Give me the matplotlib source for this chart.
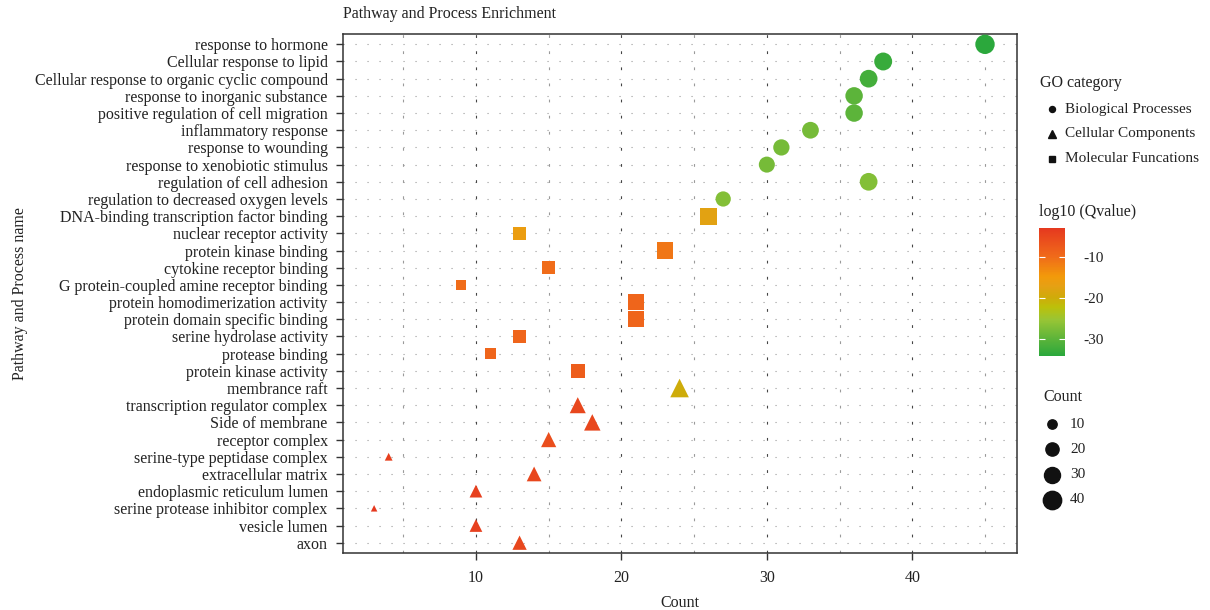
import numpy as np
import matplotlib
matplotlib.use("Agg")
import matplotlib.pyplot as plt
from matplotlib.colors import LinearSegmentedColormap, Normalize
from matplotlib.cm import ScalarMappable

plt.rcParams['font.family'] = ['Liberation Serif', 'DejaVu Serif']
plt.rcParams['axes.unicode_minus'] = False

# terms from top to bottom
terms = [
    "response to hormone", "Cellular response to lipid",
    "Cellular response to organic cyclic compound", "response to inorganic substance",
    "positive regulation of cell migration", "inflammatory response",
    "response to wounding", "response to xenobiotic stimulus",
    "regulation of cell adhesion", "regulation to decreased oxygen levels",
    "DNA-binding transcription factor binding", "nuclear receptor activity",
    "protein kinase binding", "cytokine receptor binding",
    "G protein-coupled amine receptor binding", "protein homodimerization activity",
    "protein domain specific binding", "serine hydrolase activity",
    "protease binding", "protein kinase activity",
    "membrance raft", "transcription regulator complex", "Side of membrane",
    "receptor complex", "serine-type peptidase complex", "extracellular matrix",
    "endoplasmic reticulum lumen", "serine protease inhibitor complex",
    "vesicle lumen", "axon",
]
counts = [45, 38, 37, 36, 36, 33, 31, 30, 37, 27,
          26, 13, 23, 15, 9, 21, 21, 13, 11, 17,
          24, 17, 18, 15, 4, 14, 10, 3, 10, 13]
log_q = [-34, -33, -32, -30, -30, -28, -28, -28, -27, -27,
         -17.5, -16, -11, -10, -10, -9, -9, -9, -9, -8,
         -20, -5, -5, -6, -4, -5, -4, -3, -4, -5]
category = ["BP"] * 10 + ["MF"] * 10 + ["CC"] * 10

cat_names = {"BP": "Biological Processes", "CC": "Cellular Components",
             "MF": "Molecular Funcations"}
cat_marker = {"BP": "o", "CC": "^", "MF": "s"}
size_legend = [10, 20, 30, 40]

qmin, qmax = -34.1, -2.9
cmap = LinearSegmentedColormap.from_list("q", [
    (0.0, "#2ba83c"), (0.13, "#5cb43a"), (0.28, "#98c535"),
    (0.38, "#bcc00a"), (0.46, "#d0aa0a"), (0.55, "#e6a014"),
    (0.62, "#f29a0a"), (0.78, "#f06a1a"), (1.0, "#e5381f")])
norm = Normalize(qmin, qmax)

W, H = 1210, 610
fig = plt.figure(figsize=(W / 100, H / 100), dpi=100)


def fx(px):
    return px / W


def fy(py):
    return 1 - py / H


def diam(c):
    # marker diameter in pixels, area style scaling like ggplot
    return 3.4 * (1 + 5 * np.sqrt(max(c - 3, 0) / 42.0)) - 1


def marker_s(c, cat):
    d = diam(c)
    if cat == "MF":
        d = d * 1.15
    elif cat == "CC":
        d = max(d * 1.15 + 2, 6.5)
    return (d * 0.72) ** 2


ax = fig.add_axes([fx(343), fy(553), fx(1017 - 343), fy(34) - fy(553)])
n = len(terms)
ypos = np.arange(n, 0, -1)

ax.set_xlim(0.86, 47.2)
ax.set_ylim(0.4, n + 0.6)

for y in ypos:
    ax.axhline(y, color="#9a9a9a", lw=0.8, dashes=(1, 9.8), zorder=0)
for xv in [5, 15, 25, 35, 45]:
    ax.axvline(xv, color="#9a9a9a", lw=0.8, dashes=(2.5, 12), zorder=0)
for xv in [10, 20, 30, 40]:
    ax.axvline(xv, color="#444444", lw=0.8, dashes=(2.5, 12), zorder=0)

for cat in ["BP", "MF", "CC"]:
    idx = [i for i in range(n) if category[i] == cat]
    xs = [counts[i] for i in idx]
    ys = [ypos[i] for i in idx]
    cs = [cmap(norm(log_q[i])) for i in idx]
    ss = [marker_s(counts[i], cat) for i in idx]
    ax.scatter(xs, ys, s=ss, c=cs, marker=cat_marker[cat], linewidths=0, zorder=3)

ax.set_yticks(ypos)
ax.set_yticklabels(terms, fontsize=11.5, color="#222222")
ax.set_xticks([10, 20, 30, 40])
ax.set_xticklabels(["10", "20", "30", "40"], fontsize=11.5, color="#222222")
ax.tick_params(axis="y", length=5, width=1, color="#333333", pad=6)
ax.tick_params(axis="x", length=5, width=1, color="#333333", pad=7)
for sp in ax.spines.values():
    sp.set_color("#333333")
    sp.set_linewidth(1.1)
ax.set_xlabel("Count", fontsize=11.5, color="#222222", labelpad=7)
ax.set_ylabel("Pathway and Process name", fontsize=11.5, color="#222222", labelpad=5)

fig.text(fx(343), fy(14), "Pathway and Process Enrichment", fontsize=11.5,
         color="#222222", ha="left", va="center")

# GO category legend
fig.text(fx(1040), fy(83), "GO category", fontsize=11.5, color="#222222", va="center")
leg_px = {"BP": 6, "CC": 7.5, "MF": 5.5}
for i, cat in enumerate(["BP", "CC", "MF"]):
    yy = 109 + i * 25
    fig.add_artist(plt.Line2D([fx(1052)], [fy(yy)], marker=cat_marker[cat],
                              markersize=leg_px[cat] * 0.72,
                              color="#111111", linestyle="none"))
    fig.text(fx(1065), fy(yy), cat_names[cat], fontsize=11, color="#222222", va="center")

# colour bar
fig.text(fx(1039), fy(212), "log10 (Qvalue)", fontsize=11.5, color="#222222", va="center")
cax = fig.add_axes([fx(1039), fy(356), fx(1065 - 1039), fy(228) - fy(356)])
cb = fig.colorbar(ScalarMappable(norm=norm, cmap=cmap), cax=cax)
cb.outline.set_visible(False)
cb.set_ticks([-10, -20, -30])
cax.tick_params(axis="y", direction="in", color="white", length=4, width=0.8,
                left=True, right=True, labelsize=11, labelcolor="#222222", pad=13)

# size legend
fig.text(fx(1043), fy(397), "Count", fontsize=11.5, color="#222222", va="center")
for i, c in enumerate(size_legend):
    yy = 424 + i * 25.3
    fig.add_artist(plt.Line2D([fx(1052)], [fy(yy)], marker="o",
                              markersize=diam(c) * 0.72, color="#111111",
                              linestyle="none"))
    fig.text(fx(1070), fy(yy), str(c), fontsize=11, color="#222222", va="center")

fig.savefig("out.png", dpi=100)
